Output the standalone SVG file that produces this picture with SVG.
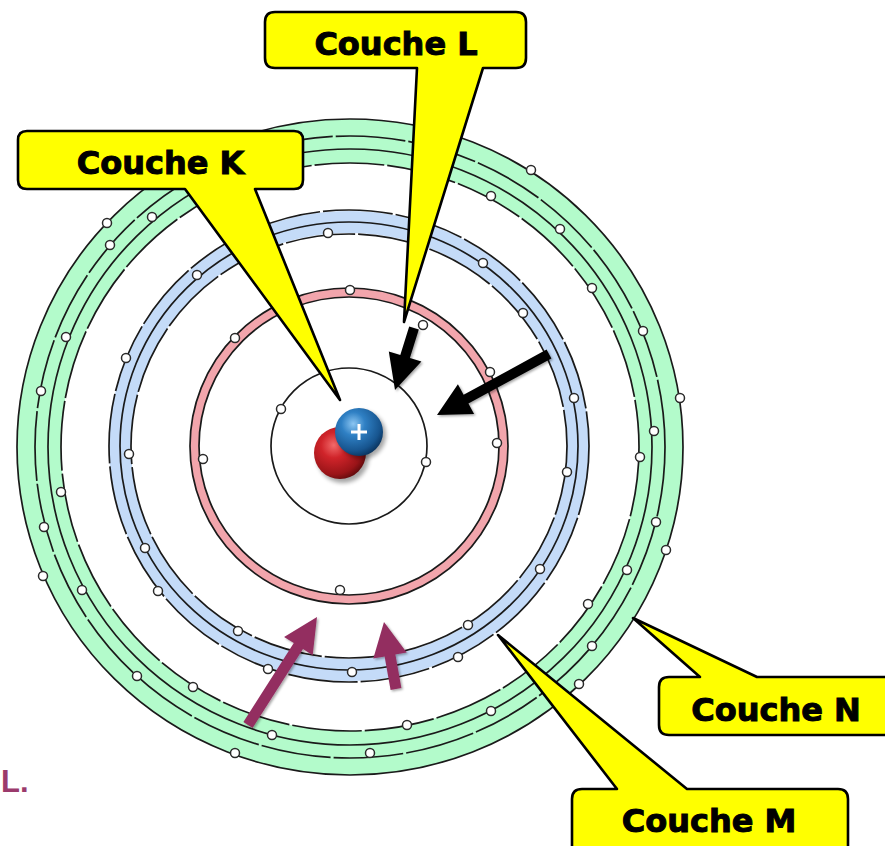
<svg xmlns="http://www.w3.org/2000/svg" width="885" height="846" viewBox="0 0 885 846">
  <defs>
    <radialGradient id="gRed" cx="0.38" cy="0.35" r="0.7">
      <stop offset="0" stop-color="#f26a6a"/>
      <stop offset="0.35" stop-color="#d0242a"/>
      <stop offset="0.8" stop-color="#9a1418"/>
      <stop offset="1" stop-color="#5e0a0c"/>
    </radialGradient>
    <radialGradient id="gBlue" cx="0.38" cy="0.33" r="0.7">
      <stop offset="0" stop-color="#8cc6f2"/>
      <stop offset="0.35" stop-color="#2f80c4"/>
      <stop offset="0.8" stop-color="#17558f"/>
      <stop offset="1" stop-color="#0b3560"/>
    </radialGradient>
    <filter id="soft" x="-30%" y="-30%" width="160%" height="160%">
      <feGaussianBlur stdDeviation="2"/>
    </filter>
    <filter id="shade" x="-20%" y="-20%" width="140%" height="140%">
      <feDropShadow dx="1.5" dy="1.5" stdDeviation="1" flood-color="#000" flood-opacity="0.35"/>
    </filter>
  </defs>
  <style>
    .line { fill: none; stroke: #1a1a1a; stroke-width: 1.7; }
    .dash { stroke-dasharray: 70 3; }
    .e { fill: #ffffff; stroke: #2a2a2a; stroke-width: 1.5; }
    .callout { fill: #ffff00; stroke: #000; stroke-width: 2.6; stroke-linejoin: round; }
    .label { font-family: "DejaVu Sans", "Liberation Sans", sans-serif; font-weight: bold; font-size: 32px; fill: #000; stroke: #000; stroke-width: 1; text-anchor: middle; }
    .blk { fill: #000; filter: url(#shade); }
    .pur { fill: #932f61; filter: url(#shade); }
  </style>

  <rect width="885" height="846" fill="#ffffff"/>

  <!-- Shell N (green) -->
  <g id="shell-N">
    <ellipse cx="350" cy="447" rx="311" ry="306" fill="none" stroke="#b3fbcb" stroke-width="44"/>
    <ellipse class="line" cx="350" cy="447" rx="333" ry="328"/>
    <ellipse class="line dash" cx="350" cy="447" rx="315" ry="311"/>
    <ellipse class="line" cx="350" cy="447" rx="302" ry="298"/>
    <ellipse class="line dash" cx="350" cy="447" rx="289" ry="284"/>
    <g>
      <circle class="e" cx="531" cy="170" r="4.5"/><circle class="e" cx="491" cy="196" r="4.5"/>
      <circle class="e" cx="560" cy="229" r="4.5"/><circle class="e" cx="592" cy="288" r="4.5"/>
      <circle class="e" cx="643" cy="331" r="4.5"/><circle class="e" cx="680" cy="398" r="4.5"/>
      <circle class="e" cx="654" cy="431" r="4.5"/><circle class="e" cx="640" cy="457" r="4.5"/>
      <circle class="e" cx="656" cy="522" r="4.5"/><circle class="e" cx="666" cy="550" r="4.5"/>
      <circle class="e" cx="627" cy="570" r="4.5"/><circle class="e" cx="588" cy="604" r="4.5"/>
      <circle class="e" cx="592" cy="646" r="4.5"/><circle class="e" cx="579" cy="684" r="4.5"/>
      <circle class="e" cx="491" cy="711" r="4.5"/><circle class="e" cx="407" cy="725" r="4.5"/>
      <circle class="e" cx="370" cy="753" r="4.5"/><circle class="e" cx="272" cy="735" r="4.5"/>
      <circle class="e" cx="235" cy="753" r="4.5"/><circle class="e" cx="193" cy="687" r="4.5"/>
      <circle class="e" cx="137" cy="676" r="4.5"/><circle class="e" cx="82" cy="590" r="4.5"/>
      <circle class="e" cx="43" cy="576" r="4.5"/><circle class="e" cx="44" cy="527" r="4.5"/>
      <circle class="e" cx="61" cy="492" r="4.5"/><circle class="e" cx="41" cy="391" r="4.5"/>
      <circle class="e" cx="66" cy="337" r="4.5"/><circle class="e" cx="107" cy="223" r="4.5"/>
      <circle class="e" cx="152" cy="217" r="4.5"/><circle class="e" cx="110" cy="245" r="4.5"/>
    </g>
  </g>

  <!-- Shell M (blue) -->
  <g id="shell-M">
    <ellipse cx="349" cy="446" rx="229" ry="224" fill="none" stroke="#c4dbf8" stroke-width="22"/>
    <ellipse class="line dash" cx="349" cy="446" rx="240" ry="236"/>
    <ellipse class="line" cx="349" cy="446" rx="229" ry="224"/>
    <ellipse class="line dash" cx="349" cy="446" rx="218" ry="212"/>
    <g>
      <circle class="e" cx="328" cy="233" r="4.5"/><circle class="e" cx="483" cy="263" r="4.5"/>
      <circle class="e" cx="523" cy="313" r="4.5"/><circle class="e" cx="197" cy="275" r="4.5"/>
      <circle class="e" cx="126" cy="358" r="4.5"/><circle class="e" cx="129" cy="454" r="4.5"/>
      <circle class="e" cx="145" cy="548" r="4.5"/><circle class="e" cx="158" cy="591" r="4.5"/>
      <circle class="e" cx="238" cy="631" r="4.5"/><circle class="e" cx="268" cy="669" r="4.5"/>
      <circle class="e" cx="352" cy="672" r="4.5"/><circle class="e" cx="468" cy="625" r="4.5"/>
      <circle class="e" cx="458" cy="657" r="4.5"/><circle class="e" cx="540" cy="569" r="4.5"/>
      <circle class="e" cx="567" cy="472" r="4.5"/><circle class="e" cx="574" cy="398" r="4.5"/>
    </g>
  </g>

  <!-- Shell L (pink) -->
  <g id="shell-L">
    <ellipse cx="349" cy="446" rx="154.5" ry="153.5" fill="none" stroke="#f2a5ac" stroke-width="9"/>
    <ellipse class="line" cx="349" cy="446" rx="159" ry="158"/>
    <ellipse class="line" cx="349" cy="446" rx="150" ry="149"/>
    <g>
      <circle class="e" cx="350" cy="290" r="4.5"/><circle class="e" cx="423" cy="325" r="4.5"/>
      <circle class="e" cx="490" cy="372" r="4.5"/><circle class="e" cx="497" cy="443" r="4.5"/>
      <circle class="e" cx="203" cy="459" r="4.5"/><circle class="e" cx="340" cy="590" r="4.5"/>
      <circle class="e" cx="235" cy="338" r="4.5"/>
    </g>
  </g>

  <!-- Shell K -->
  <g id="shell-K">
    <circle class="line" cx="349" cy="446" r="78"/>
    <circle class="e" cx="281" cy="409" r="4.5"/>
    <circle class="e" cx="426" cy="462" r="4.5"/>
  </g>

  <!-- Nucleus: neutron and proton -->
  <g id="nucleus">
    <circle cx="343" cy="457" r="26" fill="#000" opacity="0.35" filter="url(#soft)"/>
    <circle cx="340" cy="453" r="26" fill="url(#gRed)"/>
    <circle cx="362" cy="435" r="24" fill="#000" opacity="0.35" filter="url(#soft)"/>
    <circle cx="359" cy="432" r="24" fill="url(#gBlue)"/>
    <path d="M351 432 H367 M359 424 V440" stroke="#ffffff" stroke-width="3" fill="none"/>
  </g>

  <!-- Arrows -->
  <g id="connectors">
    <polygon class="blk" points="418.8,329.4 409.9,357.9 421.4,361.4 395,390 388.8,351.6 400.3,355.1 409.2,326.6"/>
    <polygon class="blk" points="551.4,358.4 468.4,403.6 474.1,414.1 437,415 457.9,384.3 463.6,394.8 546.6,349.6"/>
    <polygon class="pur" points="252.6,728 303,649 312.7,655.2 317,617 284.1,636.9 293.8,643 243.4,722"/>
    <polygon class="pur" points="401.4,688 395.4,654.5 406.7,652.5 384,622 373.3,658.5 384.6,656.5 390.6,690"/>
  </g>

  <!-- Callouts -->
  <g id="callout-K">
    <path class="callout" d="M27 131 H294 Q303 131 303 140 V180 Q303 189 294 189 H255 L340 400 L185 189 H27 Q18 189 18 180 V140 Q18 131 27 131 Z"/>
    <text class="label" x="160.5" y="174">Couche K</text>
  </g>
  <g id="callout-L">
    <path class="callout" d="M275 12 H516 Q526 12 526 22 V58 Q526 68 516 68 H483 L404 322 L417 68 H275 Q265 68 265 58 V22 Q265 12 275 12 Z"/>
    <text class="label" x="396" y="55">Couche L</text>
  </g>
  <g id="callout-N">
    <path class="callout" d="M669 677 H700 L633 618 L757 677 H900 V735 H669 Q659 735 659 725 V687 Q659 677 669 677 Z"/>
    <text class="label" x="776" y="721">Couche N</text>
  </g>
  <g id="callout-M">
    <path class="callout" d="M582 789 H617 L498 635 L687 789 H838 Q848 789 848 799 V860 H572 V799 Q572 789 582 789 Z"/>
    <text class="label" x="709" y="832">Couche M</text>
  </g>

  <text x="1" y="792" font-family="Liberation Sans, Arial, sans-serif" font-weight="bold" font-size="31" fill="#9b3a6c">L.</text>
</svg>
